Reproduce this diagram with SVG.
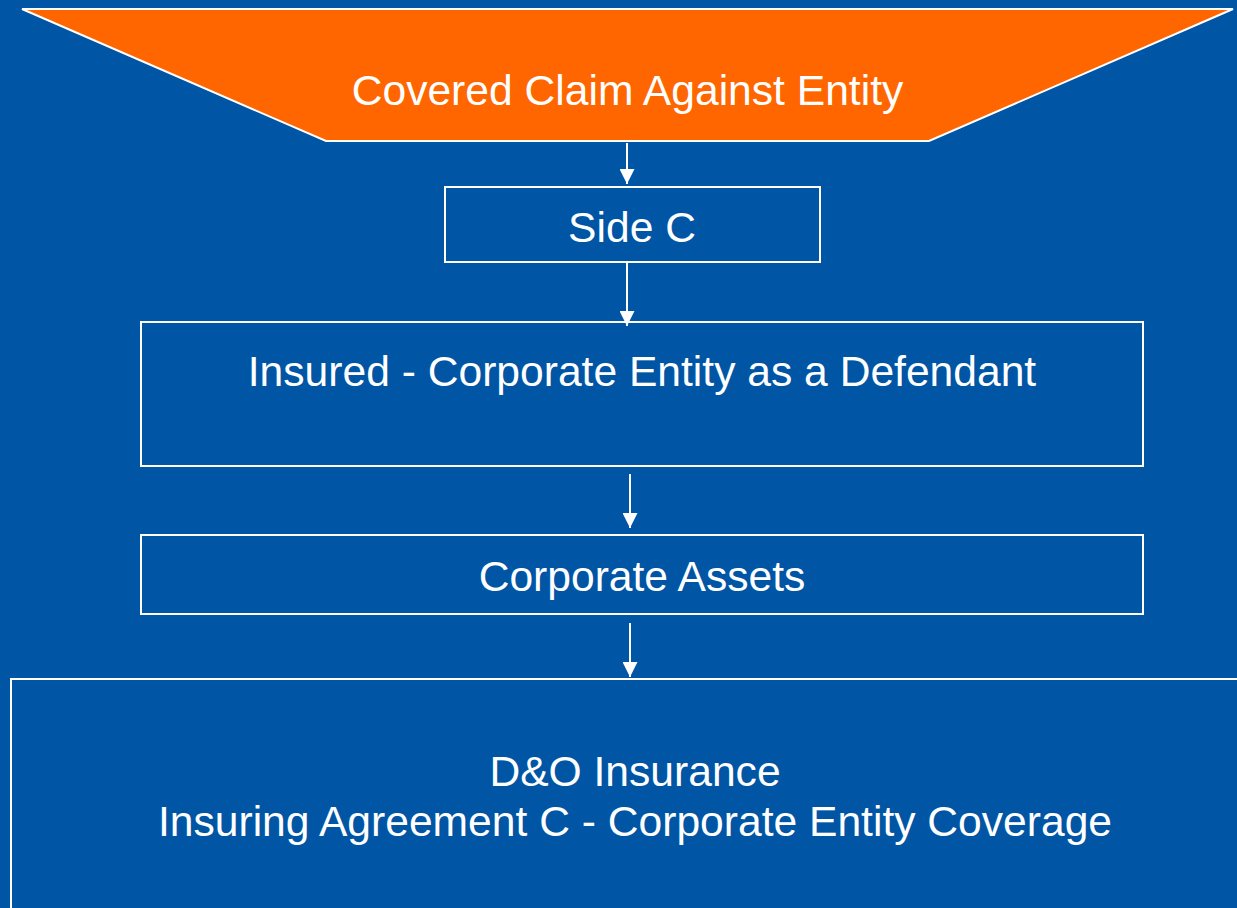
<svg xmlns="http://www.w3.org/2000/svg" width="1237" height="908" viewBox="0 0 1237 908">
  <style>
    .box { fill: none; stroke: #ffffff; stroke-width: 2; }
    .label { fill: #ffffff; font-family: "Liberation Sans", Arial, sans-serif; font-size: 42.6px; text-anchor: middle; }
    .conn { stroke: #ffffff; stroke-width: 2; fill: none; marker-end: url(#arrow); }
  </style>
  <defs>
    <marker id="arrow" viewBox="0 0 10 10" refX="10" refY="5" markerUnits="userSpaceOnUse" markerWidth="15" markerHeight="15" orient="auto">
      <path d="M0,0 L10,5 L0,10 Z" fill="#ffffff"/>
    </marker>
  </defs>

  <rect x="0" y="0" width="1237" height="908" fill="#0055A5"/>

  <g id="claim">
    <polygon points="22,9 1233,9 929,141 326,141" fill="#FF6600" stroke="#ffffff" stroke-width="2"/>
    <text class="label" x="627.5" y="105">Covered Claim Against Entity</text>
  </g>

  <g id="side-c">
    <rect class="box" x="445" y="187" width="375" height="75"/>
    <text class="label" x="632" y="242">Side C</text>
  </g>

  <g id="insured">
    <rect class="box" x="141" y="322" width="1002" height="144"/>
    <text class="label" x="642" y="386">Insured - Corporate Entity as a Defendant</text>
  </g>

  <g id="assets">
    <rect class="box" x="141" y="535" width="1002" height="79"/>
    <text class="label" x="642" y="591">Corporate Assets</text>
  </g>

  <g id="coverage">
    <rect class="box" x="11" y="679" width="1240" height="240"/>
    <text class="label" x="635" y="786">D&amp;O Insurance</text>
    <text class="label" x="635" y="836">Insuring Agreement C - Corporate Entity Coverage</text>
  </g>

  <g id="connectors">
    <line class="conn" x1="627" y1="143" x2="627" y2="184"/>
    <line class="conn" x1="627" y1="263" x2="627" y2="326"/>
    <line class="conn" x1="630" y1="474" x2="630" y2="528"/>
    <line class="conn" x1="630" y1="623" x2="630" y2="677"/>
  </g>
</svg>
